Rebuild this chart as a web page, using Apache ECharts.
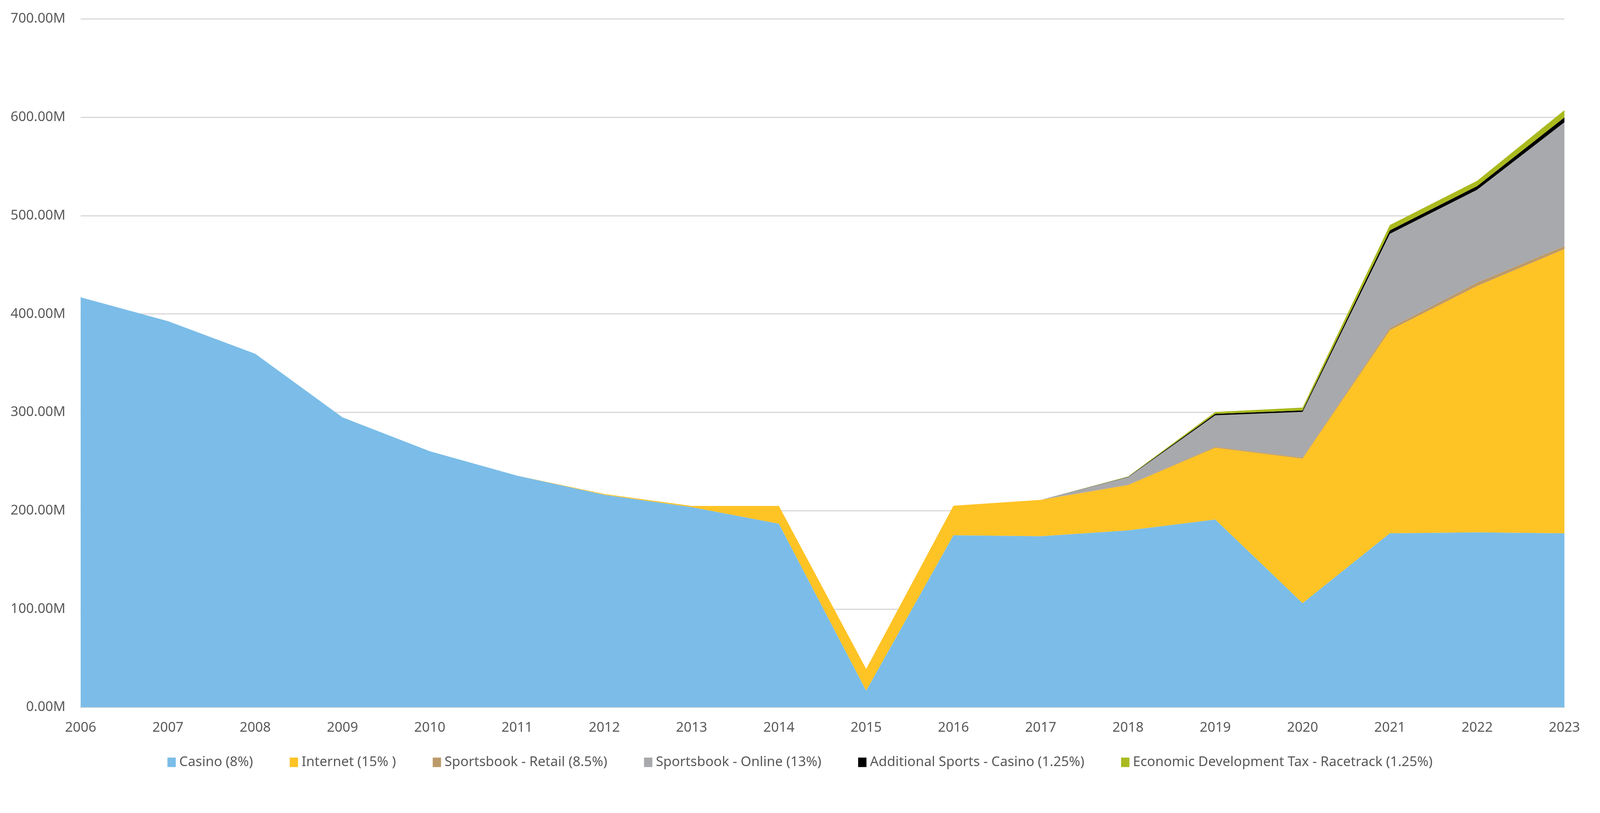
<!DOCTYPE html>
<html lang="en">
<head>
<meta charset="utf-8">
<title>Gaming tax revenue</title>
<script src="https://cdn.jsdelivr.net/npm/echarts@6/dist/echarts.min.js"></script>
<style>
html, body { margin: 0; padding: 0; background: #fff; overflow: hidden; }
#chart { width: 100vw; height: 100vh; }
</style>
</head>
<body>
<div id="chart"></div>
<script>
// values in millions
var years = ['2006','2007','2008','2009','2010','2011','2012','2013','2014','2015','2016','2017','2018','2019','2020','2021','2022','2023'];
var casino =   [416.9, 392.7, 359.5, 294.9, 260.4, 235.6, 216.1, 203.6, 186.7, 17, 175, 174, 180, 191, 106, 177, 178, 177];
var internet = [0, 0, 0, 0, 0, 0, 0.8, 1.2, 18.1, 22, 30, 37, 46, 73, 147, 206.5, 250.5, 289];
var sbRetail = [0, 0, 0, 0, 0, 0, 0, 0, 0, 0, 0, 0, 0.5, 1, 1, 2.3, 3.5, 3.1];
var sbOnline = [0, 0, 0, 0, 0, 0, 0, 0, 0, 0, 0, 0, 7.5, 32, 46.4, 95.7, 94.3, 125.8];
var addSports = [0, 0, 0, 0, 0, 0, 0, 0, 0, 0, 0, 0, 0.3, 1.5, 1.5, 3.6, 3.8, 5.0];
var econDev =  [0, 0, 0, 0, 0, 0, 0, 0, 0, 0, 0, 0, 0.4, 1.8, 2.9, 5.3, 5.3, 7.3];

var names = ['Casino (8%)', 'Internet (15% )', 'Sportsbook - Retail (8.5%)', 'Sportsbook - Online (13%)', 'Additional Sports - Casino (1.25%)', 'Economic Development Tax - Racetrack (1.25%)'];
var colors = ['#7BBDE8', '#FEC325', '#BC9A6A', '#A8A9AC', '#000000', '#AABA1E'];
var values = [casino, internet, sbRetail, sbOnline, addSports, econDev];

// layout was measured on a 4226px wide picture, scale it to the real viewport
var s = window.innerWidth / 4226;
var font = 'Noto Sans';
var series = [];
for (var i = 0; i < names.length; i++) {
    series.push({
        name: names[i],
        type: 'line',
        stack: 'total',
        symbol: 'none',
        lineStyle: { width: 0 },
        areaStyle: { color: colors[i], opacity: 1 },
        itemStyle: { color: colors[i] },
        data: values[i]
    });
}

echarts.init(document.getElementById('chart')).setOption({
    animation: false,
    backgroundColor: '#ffffff',
    color: colors,
    grid: {
        left: 213 * s,
        right: 94 * s,
        top: 50 * s,
        height: 1818 * s
    },
    legend: {
        data: names,
        top: 1990 * s,
        left: 'center',
        icon: 'rect',
        itemWidth: 22 * s,
        itemHeight: 25 * s,
        itemGap: 97 * s,
        textStyle: { color: '#595959', fontSize: 36 * s, fontFamily: font, padding: [0, 0, 0, 4 * s] }
    },
    xAxis: {
        type: 'category',
        boundaryGap: false,
        data: years,
        axisLine: { lineStyle: { color: '#D9D9D9', width: 3 * s } },
        axisTick: { show: false },
        axisLabel: { color: '#595959', fontSize: 36 * s, fontFamily: font, margin: 36 * s }
    },
    yAxis: {
        type: 'value',
        min: 0,
        max: 700,
        interval: 100,
        axisLine: { show: false },
        axisTick: { show: false },
        splitLine: { lineStyle: { color: '#D9D9D9', width: 3 * s } },
        axisLabel: {
            color: '#595959', fontSize: 36 * s, fontFamily: font, margin: 40 * s,
            formatter: function (v) { return v.toFixed(2) + 'M'; }
        }
    },
    series: series
});
</script>
</body>
</html>
